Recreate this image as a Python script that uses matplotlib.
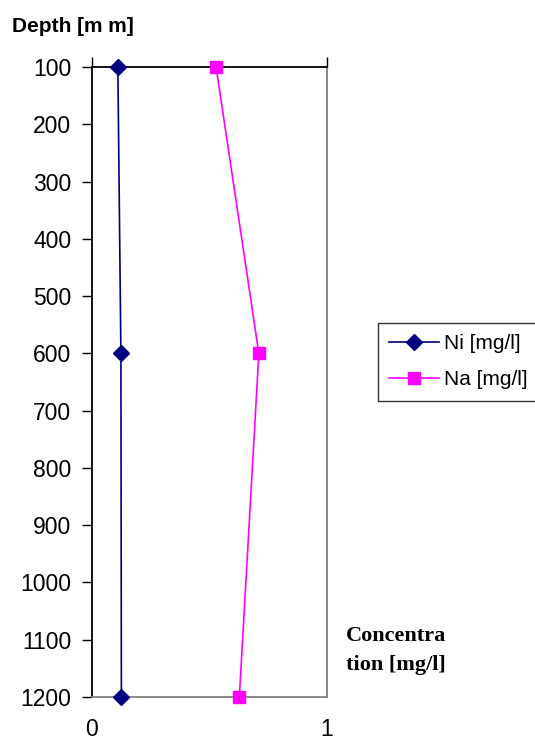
import matplotlib
matplotlib.use("Agg")
import matplotlib.pyplot as plt
from matplotlib.transforms import blended_transform_factory

depth = [100, 600, 1200]
ni = [0.11, 0.123, 0.125]
na = [0.528, 0.71, 0.627]
y_ticks = list(range(100, 1300, 100))
x_ticks = [0, 1]

W, H = 535, 742
fig = plt.figure(figsize=(W / 100, H / 100), dpi=100)
plt.rcParams['font.family'] = ['Liberation Sans', 'DejaVu Sans']

x0, x1, y0, y1 = 92, 327, 67, 697
ax = fig.add_axes([x0 / W, 1 - y1 / H, (x1 - x0) / W, (y1 - y0) / H])
ax.set_xlim(0, 1)
ax.set_ylim(1200, 100)

ax.plot(ni, depth, color='#000080', marker='D', markersize=8, lw=1.2,
        label='Ni [mg/l]', clip_on=False, zorder=5)
ax.plot(na, depth, color='#FF00FF', marker='s', markersize=8, lw=1.2,
        label='Na [mg/l]', clip_on=False, zorder=5)

ax.set_yticks(y_ticks)
ax.set_yticklabels([str(v) for v in y_ticks], fontsize=16.5)
ax.tick_params(axis='y', direction='out', length=7, width=1, color='black', pad=8)
ax.xaxis.tick_top()
ax.set_xticks(x_ticks)
ax.set_xticklabels([])
ax.tick_params(axis='x', direction='out', length=7, width=1, color='black')

ax.spines['top'].set_color('black')
ax.spines['left'].set_color('black')
ax.spines['right'].set_color('#808080')
ax.spines['bottom'].set_color('#808080')
for s in ax.spines.values():
    s.set_linewidth(1.3)

trans = blended_transform_factory(ax.transData, fig.transFigure)
for v in x_ticks:
    ax.text(v, 1.5 / H, str(v), ha='center', va='bottom', fontsize=16.5,
            transform=trans, clip_on=False)

fig.text(12 / W, 1 - 27 / H, 'Depth [m m]', fontsize=15, fontweight='bold', va='center', ha='left')
fig.text(346 / W, 1 - 636 / H, 'Concentra', fontsize=16, fontweight='bold',
         family='Liberation Serif', va='center', ha='left')
fig.text(346 / W, 1 - 665 / H, 'tion [mg/l]', fontsize=16, fontweight='bold',
         family='Liberation Serif', va='center', ha='left')

leg = fig.legend(loc='upper left', bbox_to_anchor=(378 / W, 1 - 323 / H), fontsize=15,
                 frameon=True, fancybox=False, edgecolor='black', handlelength=2.4,
                 borderpad=0.55, labelspacing=0.8, handletextpad=0.2, borderaxespad=0)
leg.get_frame().set_linewidth(1)

fig.savefig('out.png', dpi=100, facecolor='white')
